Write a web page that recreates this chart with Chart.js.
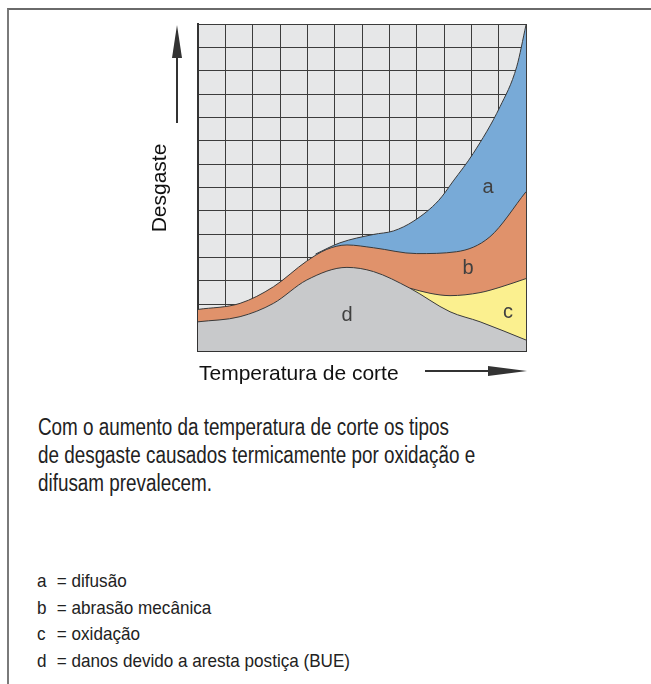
<!DOCTYPE html>
<html lang="pt">
<head>
    <meta charset="UTF-8">
    <title>Desgaste x Temperatura de corte</title>
    <script src="https://cdn.jsdelivr.net/npm/chart.js"></script>
    <style>
        body { margin: 0; background: #fff; font-family: "Liberation Sans", Arial, sans-serif; color: #222; }
        #wrap { position: relative; width: 651px; height: 684px; overflow: hidden; }
        #frame { position: absolute; left: 7px; top: 8px; width: 660px; height: 700px;
                 border-top: 2px solid #6a6a6a; border-left: 2px solid #7a7a7a; }
        #chart { position: absolute; left: 0; top: 0; }
        #texto { position: absolute; left: 38px; top: 413px; font-size: 23px; line-height: 28px;
                 transform: scaleX(0.82); transform-origin: 0 0; white-space: nowrap; }
        #legenda { position: absolute; left: 37px; top: 568px; font-size: 19px; line-height: 26.5px;
                   transform: scaleX(0.9); transform-origin: 0 0; white-space: nowrap; }
        #legenda span { display: inline-block; width: 22px; }
    </style>
</head>
<body>
<div id="wrap">
    <div id="frame"></div>
    <canvas id="chart" width="651" height="400"></canvas>
    <div id="texto">Com o aumento da temperatura de corte os tipos<br>de desgaste causados termicamente por oxidação e<br>difusam prevalecem.</div>
    <div id="legenda"></div>
</div>
<script>
    // boundaries of each wear zone (x = temperatura 0..12, y = desgaste 0..14)
    const xD = [0, 1.54, 2.76, 3.98, 5.45, 6.42, 7.75, 9.22, 10.32, 12];
    const topD = [1.25, 1.47, 2.04, 3.04, 3.58, 3.40, 2.69, 1.68, 1.25, 0.47];

    const xC = [7.75, 8.49, 9.22, 10.32, 11.05, 12];
    const topC = [2.69, 2.47, 2.37, 2.50, 2.73, 3.10];

    const xB = [0, 1.54, 2.76, 3.98, 4.71, 5.45, 6.42, 8.0, 9.46, 10.68, 12];
    const topB = [1.78, 2.04, 2.75, 3.85, 4.35, 4.54, 4.42, 4.17, 4.25, 4.89, 6.82];

    const xA = [4.3, 5.19, 6.42, 7.15, 7.9, 8.8, 9.34, 10.07, 11.05, 11.66, 12];
    const topA = [4.15, 4.63, 4.99, 5.14, 5.57, 6.44, 7.28, 8.46, 10.46, 12.17, 13.96];

    const zoneLabels = ['a', 'b', 'c', 'd'];
    const labelX = [10.61, 9.88, 11.34, 5.45];
    const labelY = [6.98, 3.55, 1.63, 1.54];
    const legendText = ['difusão', 'abrasão mecânica', 'oxidação', 'danos devido a aresta postiça (BUE)'];

    const yTitle = 'Desgaste';
    const xTitle = 'Temperatura de corte';

    document.getElementById('legenda').innerHTML = zoneLabels
        .map((l, i) => '<span>' + l + '</span>= ' + legendText[i]).join('<br>');

    function pts(xs, ys) {
        return xs.map((x, i) => ({ x: x, y: ys[i] }));
    }

    function zone(label, xs, ys, color) {
        return {
            label: label,
            data: pts(xs, ys),
            backgroundColor: color,
            borderColor: '#3a3a3a',
            borderWidth: 1,
            fill: 'origin',
            pointRadius: 0,
            cubicInterpolationMode: 'monotone'
        };
    }

    // grey background behind the grid
    const bgPlugin = {
        id: 'bg',
        beforeDraw(chart) {
            const a = chart.chartArea, ctx = chart.ctx;
            ctx.save();
            ctx.fillStyle = '#e6e7e8';
            ctx.fillRect(a.left, a.top, a.right - a.left, a.bottom - a.top);
            ctx.restore();
        }
    };

    // axis titles with arrows, and the zone letters
    const decoPlugin = {
        id: 'deco',
        afterDraw(chart) {
            const a = chart.chartArea, ctx = chart.ctx;
            const sx = chart.scales.x, sy = chart.scales.y;
            ctx.save();
            ctx.fillStyle = '#404040';
            ctx.font = '20px "Liberation Sans", Arial, sans-serif';
            ctx.textAlign = 'center';
            ctx.textBaseline = 'middle';
            zoneLabels.forEach((l, i) => {
                ctx.fillText(l, sx.getPixelForValue(labelX[i]), sy.getPixelForValue(labelY[i]));
            });

            ctx.fillStyle = '#111';
            ctx.strokeStyle = '#333';
            ctx.font = '21px "Liberation Sans", Arial, sans-serif';
            // y title
            ctx.save();
            ctx.translate(a.left - 38, a.top + 164);
            ctx.rotate(-Math.PI / 2);
            ctx.fillText(yTitle, 0, 0);
            ctx.restore();
            // up arrow
            const ax = a.left - 21;
            ctx.lineWidth = 2;
            ctx.beginPath();
            ctx.moveTo(ax, a.top + 99);
            ctx.lineTo(ax, a.top + 30);
            ctx.stroke();
            ctx.fillStyle = '#333';
            ctx.beginPath();
            ctx.moveTo(ax, a.top + 1);
            ctx.lineTo(ax - 5, a.top + 34);
            ctx.lineTo(ax + 5, a.top + 34);
            ctx.closePath();
            ctx.fill();
            // x title
            ctx.fillStyle = '#111';
            ctx.textAlign = 'left';
            ctx.fillText(xTitle, a.left + 1, a.bottom + 23);
            // right arrow
            const ay = a.bottom + 20;
            ctx.beginPath();
            ctx.moveTo(a.left + 227, ay);
            ctx.lineTo(a.right - 30, ay);
            ctx.stroke();
            ctx.fillStyle = '#333';
            ctx.beginPath();
            ctx.moveTo(a.right + 1, ay);
            ctx.lineTo(a.right - 38, ay - 5);
            ctx.lineTo(a.right - 38, ay + 5);
            ctx.closePath();
            ctx.fill();
            ctx.restore();
        }
    };

    new Chart(document.getElementById('chart'), {
        type: 'line',
        data: {
            datasets: [
                zone('d', xD, topD, '#c8c9cb'),
                zone('c', xC, topC, '#fbf08f'),
                zone('b', xB, topB, '#e0926b'),
                zone('a', xA, topA, '#78aad7')
            ]
        },
        options: {
            responsive: false,
            animation: false,
            layout: { padding: { left: 198, top: 24, right: 125, bottom: 49 } },
            plugins: { legend: { display: false }, tooltip: { enabled: false } },
            scales: {
                x: {
                    type: 'linear', min: 0, max: 12,
                    ticks: { display: false, stepSize: 1 },
                    grid: { color: '#3c3c3c', lineWidth: 1, drawTicks: false },
                    border: { color: '#333', width: 2 }
                },
                y: {
                    min: 0, max: 14,
                    ticks: { display: false, stepSize: 1 },
                    grid: { color: '#3c3c3c', lineWidth: 1, drawTicks: false },
                    border: { color: '#333', width: 2 }
                }
            }
        },
        plugins: [bgPlugin, decoPlugin]
    });
</script>
</body>
</html>
